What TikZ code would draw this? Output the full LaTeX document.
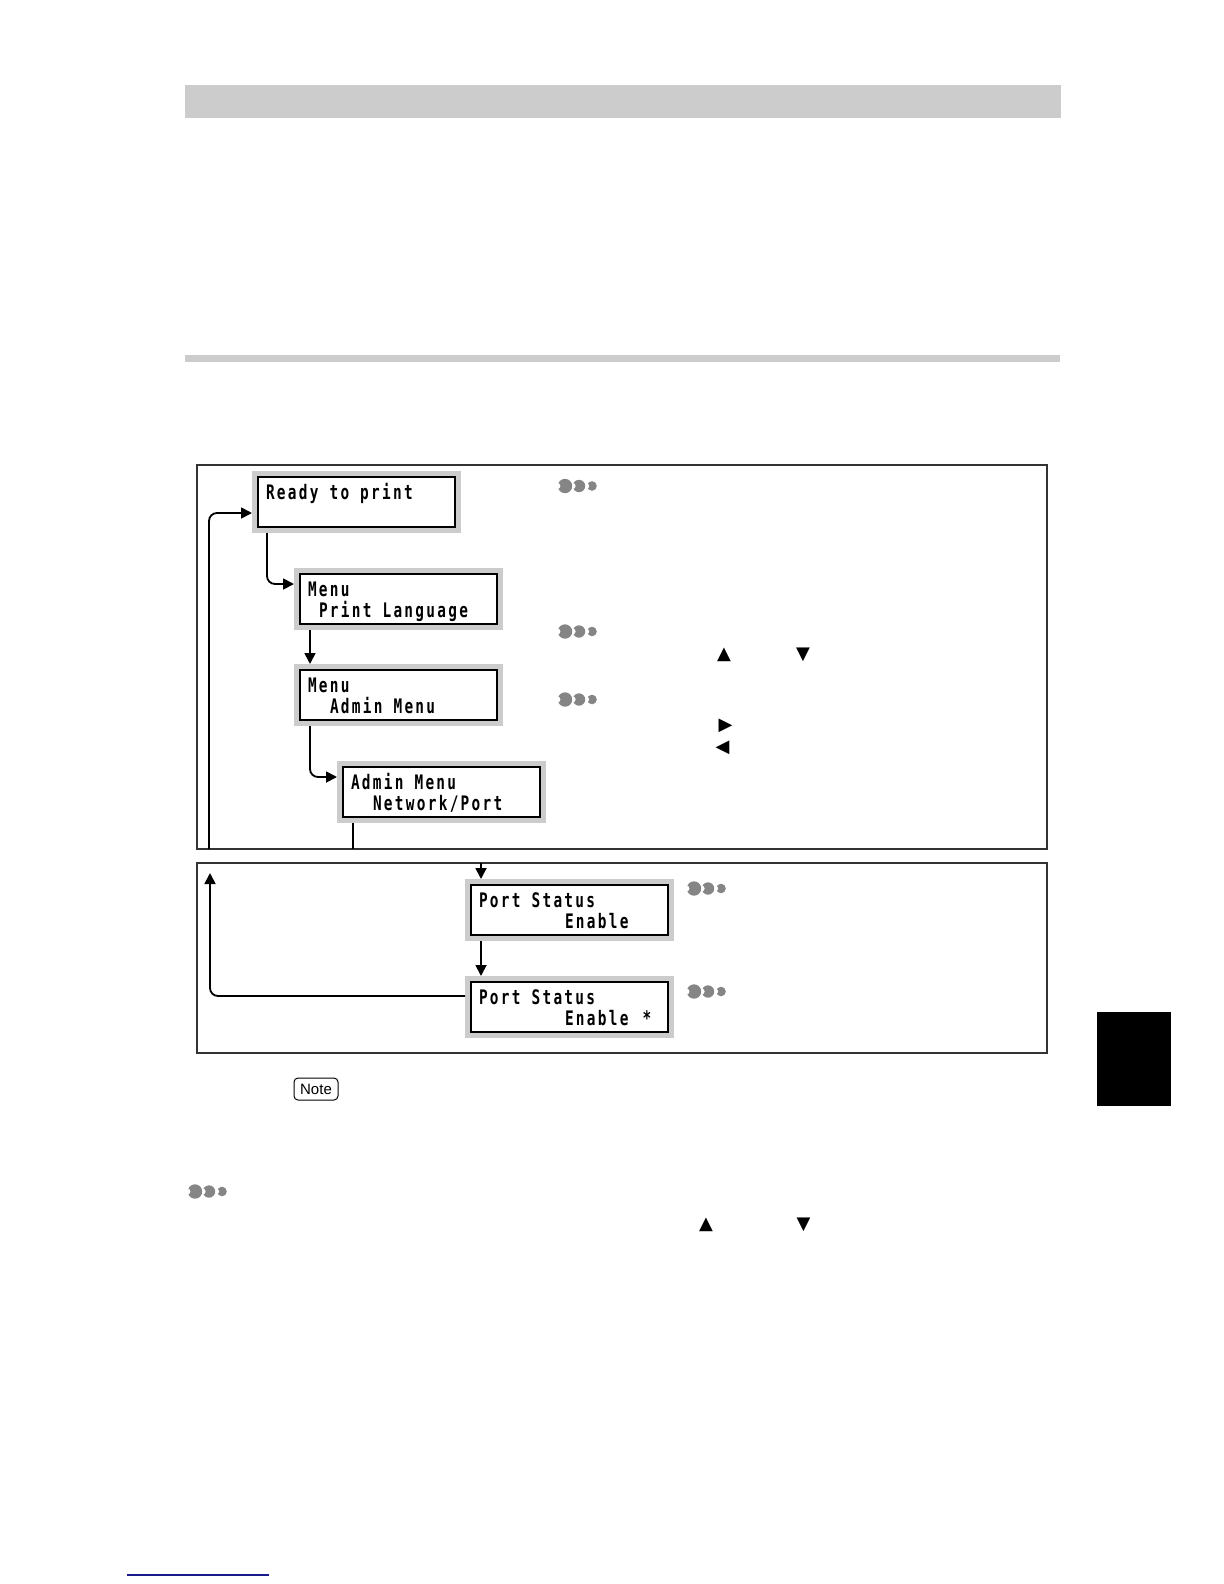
\documentclass[tikz,border=0pt]{standalone}
\usepackage{fontspec}
\usepackage{tikz}
\usetikzlibrary{calc,arrows.meta,positioning}
\newfontfamily\lcdfont{DejaVu Sans Mono Bold}[FakeStretch=0.72,LetterSpace=11.5]
\newfontfamily\symfont{DejaVu Sans}
\newfontfamily\notefont{Liberation Sans}
\newcommand\lcdset{\lcdfont\fontsize{10}{10.5}\selectfont}
\newcommand\lcdgap{\hspace*{5.5pt}}
\definecolor{lcdgray}{HTML}{CCCCCC}
\definecolor{dotgray}{HTML}{858585}
\definecolor{framegray}{HTML}{333333}
\definecolor{linkblue}{HTML}{1A1A8C}
\tikzset{
lcd_box/.style={rectangle, draw, line width=0.8pt, fill=white, preaction={draw=lcdgray, line width=6pt}, outer sep=3pt, inner xsep=4pt, inner ysep=0pt, text width=90.5pt, align=left, minimum height=25pt, text height=11pt, text depth=14pt, font=\lcdset},
panel_box/.style={rectangle, draw=framegray, line width=0.6pt, outer sep=0pt, inner sep=0pt, minimum width=425pt},
link_line/.style={line width=0.9pt, rounded corners=4pt},
link_arrow/.style={link_line, -{Triangle[length=5.5pt,width=5.5pt]}},
key_mark/.style={inner sep=0pt, font=\symfont\fontsize{9}{9}\selectfont},
note_tag/.style={rectangle, draw, rounded corners=2pt, line width=0.5pt, inner sep=0pt, minimum width=22pt, minimum height=11pt, font=\notefont\fontsize{7.5}{7.5}\selectfont},
dot_mark/.pic={
  \fill[dotgray] (34,0) circle (2.4pt);
  \fill[white] (28.8,0) circle (1.2pt);
  \fill[dotgray] (21,0) circle (3.1pt);
  \fill[white] (14.6,0) circle (1.5pt);
  \fill[dotgray] (7,0) circle (3.6pt);
  \fill[white] (-0.6,0) circle (1.5pt);
}
}

\begin{document}
\begin{tikzpicture}[x=0.5pt,y=-0.5pt]
    \useasboundingbox (0,0) rectangle (1224,1584);
    % page furniture
    \fill[lcdgray] (185,85) rectangle (1061,118);
    \fill[lcdgray] (185,355) rectangle (1060,362);
    \fill[black] (1097,1012) rectangle (1171,1106);
    \draw[linkblue, line width=0.7pt] (127,1575) -- (269,1575);

    % panels
    \node[panel_box, minimum height=192pt] (upper) at (622,657) {};
    \node[panel_box, minimum height=95pt] (lower) at (622,958) {};

    % display screens
    \node[lcd_box] (ready) at (356.5,502) {Ready\lcdgap to\lcdgap print};
    \node[lcd_box] (menu_lang) [below=17.5pt of ready, xshift=21pt] {Menu\\\lcdgap Print\lcdgap Language};
    \node[lcd_box] (menu_admin) [below=17pt of menu_lang] {Menu\\\lcdgap\lcdgap Admin\lcdgap Menu};
    \node[lcd_box] (admin_net) [below=17.5pt of menu_admin, xshift=21.5pt] {Admin\lcdgap Menu\\\lcdgap\lcdgap Network/Port};
    \node[lcd_box] (port_on) [below=28pt of admin_net, xshift=64pt] {Port\lcdgap Status\\\hspace*{43pt}Enable};
    \node[lcd_box] (port_set) [below=17.5pt of port_on] {Port\lcdgap Status\\\hspace*{43pt}Enable\hspace*{7pt}*};

    % connectors
    \coordinate (drop_ready) at ($(ready.south west)+(15,0)$);
    \coordinate (drop_lang) at ($(menu_lang.south west)+(16,0)$);
    \coordinate (drop_admin) at ($(menu_admin.south west)+(16,0)$);
    \coordinate (drop_net) at ($(admin_net.south west)+(16,0)$);
    \coordinate (drop_port) at ($(port_on.north west)+(16,0)$);
    \coordinate (drop_on) at ($(port_on.south west)+(16,0)$);
    \coordinate (back_top) at ($(upper.south west)+(12,0)$);
    \coordinate (back_end) at ($(lower.north west)+(13,10)$);
    \draw[link_arrow] (drop_ready) |- ($(menu_lang.north west)+(0,16)$);
    \draw[link_arrow] (drop_lang) -- (drop_lang |- menu_admin.north);
    \draw[link_arrow] (drop_admin) |- ($(admin_net.north west)+(0,16)$);
    \draw[link_line] (drop_net) -- (drop_net |- upper.south);
    \draw[link_arrow] (drop_port |- lower.north) -- (drop_port);
    \draw[link_arrow] (drop_on) -- (drop_on |- port_set.north);
    \draw[link_arrow] ($(port_set.north west)+(0,20)$) -| (back_end);
    \draw[link_arrow] (back_top) |- ($(ready.north west)+(0,42)$);

    % marks
    \pic at (558,486) {dot_mark};
    \pic at (558,631.5) {dot_mark};
    \pic at (558,699.5) {dot_mark};
    \pic at (687,888.5) {dot_mark};
    \pic at (687,991.5) {dot_mark};
    \pic at (188,1191.5) {dot_mark};
    \node[key_mark] (key_up_1) at (724,655) {▲};
    \node[key_mark] (key_down_1) at (803,655) {▼};
    \node[key_mark] (key_right) at (725.5,725.5) {▶};
    \node[key_mark] (key_left) at (722.5,747.5) {◀};
    \node[key_mark] (key_up_2) at (706,1225) {▲};
    \node[key_mark] (key_down_2) at (803.5,1225) {▼};
    \node[note_tag] (note) at (316,1089) {Note};
\end{tikzpicture}
\end{document}
